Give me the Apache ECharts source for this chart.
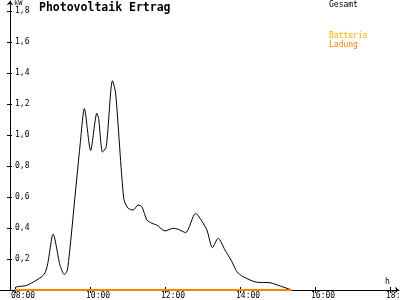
<!DOCTYPE html>
<html><head><meta charset="utf-8">
<script src="https://cdn.jsdelivr.net/npm/echarts@6/dist/echarts.min.js"></script>
<style>html,body{margin:0;padding:0;background:#fff}#c{width:400px;height:300px}</style>
</head><body><div id="c"></div>
<script>
var gesamtTimes = ["08:00","08:02","08:19","08:48","09:01","09:12","09:19","09:24","09:37","09:44","09:51","10:01","10:11","10:14","10:20","10:26","10:36","10:41","10:54","11:01","11:09","11:17","11:23","11:31","11:39","11:47","12:00","12:13","12:21","12:33","12:49","12:56","13:07","13:16","13:25","13:36","13:47","13:55","14:05","14:27","14:48","15:04","15:23"];
var gesamtValues = [0.00,0.02,0.03,0.11,0.36,0.16,0.10,0.13,0.645,0.93,1.17,0.90,1.14,1.10,0.89,0.925,1.35,1.27,0.59,0.527,0.516,0.548,0.537,0.452,0.43,0.419,0.381,0.398,0.392,0.37,0.495,0.463,0.387,0.273,0.334,0.258,0.183,0.118,0.086,0.05,0.047,0.026,0.0];
var batterieTimes = ["08:00","15:23"];
var batterieValues = [0,0];
var ladungTimes = ["08:00","15:23"];
var ladungValues = [0,0];
var xTicks = [8,10,12,14,16,18];
var yTicks = [0.2,0.4,0.6,0.8,1.0,1.2,1.4,1.6,1.8];

function toH(s){var p=s.split(':');return +p[0]+(+p[1])/60;}
function pairs(t,v){return t.map(function(s,i){return [toH(s),v[i]];});}
function hh(v){var h=Math.round(v);return (h<10?'0':'')+h+':00';}

var F = 'DejaVu Sans Mono';
var chart = echarts.init(document.getElementById('c'), null, {renderer:'canvas'});
chart.setOption({
  animation:false,
  backgroundColor:'#fff',
  title:{text:'Photovoltaik Ertrag',left:39,top:2,padding:0,
    textStyle:{fontFamily:F,fontWeight:'bold',fontSize:11.5,color:'#000'}},
  legend:[
    {data:[{name:'Gesamt',textStyle:{color:'#000'}}],left:324,top:1,padding:0,
      itemWidth:0,itemHeight:0,icon:'rect',selectedMode:false,
      textStyle:{fontFamily:F,fontSize:8}},
    {data:[{name:'Batterie',textStyle:{color:'#FFB000'}},{name:'Ladung',textStyle:{color:'#FF8000'}}],
      orient:'vertical',left:324,top:31,padding:0,itemGap:0,
      itemWidth:0,itemHeight:0,icon:'rect',selectedMode:false,
      textStyle:{fontFamily:F,fontSize:8,lineHeight:9}}
  ],
  grid:{left:0,right:1,top:1,bottom:10,containLabel:false,outerBoundsMode:'none'},
  xAxis:[
    {type:'value',min:7.6,max:18.24,position:'bottom',
      name:'h',nameLocation:'end',nameGap:-14,
      nameTextStyle:{fontFamily:F,fontSize:8,color:'#000',align:'left',verticalAlign:'bottom',padding:[0,0,4,0]},
      axisLine:{show:true,lineStyle:{color:'#000',width:1},symbol:['none','arrow'],symbolSize:[5,4]},
      axisTick:{show:true,length:3,inside:false,customValues:xTicks,lineStyle:{color:'#000'}},
      axisLabel:{show:true,customValues:xTicks,formatter:hh,margin:2,align:'left',alignMinLabel:'left',alignMaxLabel:'left',
        padding:[0,0,0,-4],fontFamily:F,fontSize:8,color:'#000'},
      splitLine:{show:false}},
    {type:'value',min:7.6,max:18.24,position:'bottom',
      axisLine:{show:false},
      axisTick:{show:true,length:3,inside:true,customValues:xTicks,lineStyle:{color:'#000'}},
      axisLabel:{show:false},splitLine:{show:false}}
  ],
  yAxis:[
    {type:'value',min:0,max:1.8645,position:'left',offset:-10,
      name:'kW',nameLocation:'end',nameGap:-1,
      nameTextStyle:{fontFamily:F,fontSize:7,color:'#000',align:'left',verticalAlign:'top',padding:[0,0,0,4]},
      axisLine:{show:true,lineStyle:{color:'#000',width:1},symbol:['none','arrow'],symbolSize:[5,4]},
      axisTick:{show:true,length:3,inside:false,customValues:yTicks,lineStyle:{color:'#000'}},
      axisLabel:{show:true,inside:true,margin:5,customValues:yTicks,
        formatter:function(v){return v.toFixed(1).replace('.',',');},
        fontFamily:F,fontSize:8,color:'#000'},
      splitLine:{show:false}},
    {type:'value',min:0,max:1.8645,position:'left',offset:-10,
      axisLine:{show:false},
      axisTick:{show:true,length:2,inside:true,customValues:yTicks,lineStyle:{color:'#000'}},
      axisLabel:{show:false},splitLine:{show:false}}
  ],
  series:[
    {name:'Gesamt',type:'line',xAxisIndex:0,yAxisIndex:0,data:pairs(gesamtTimes,gesamtValues),
      showSymbol:false,smooth:0.25,lineStyle:{color:'#000',width:1},itemStyle:{color:'#000'}},
    {name:'Batterie',type:'line',xAxisIndex:0,yAxisIndex:0,data:pairs(batterieTimes,batterieValues),
      showSymbol:false,lineStyle:{color:'#FFB000',width:1},itemStyle:{color:'#FFB000'}},
    {name:'Ladung',type:'line',xAxisIndex:0,yAxisIndex:0,data:pairs(ladungTimes,ladungValues),
      showSymbol:false,lineStyle:{color:'#FF8000',width:2},itemStyle:{color:'#FF8000'}}
  ]
});
</script></body></html>
